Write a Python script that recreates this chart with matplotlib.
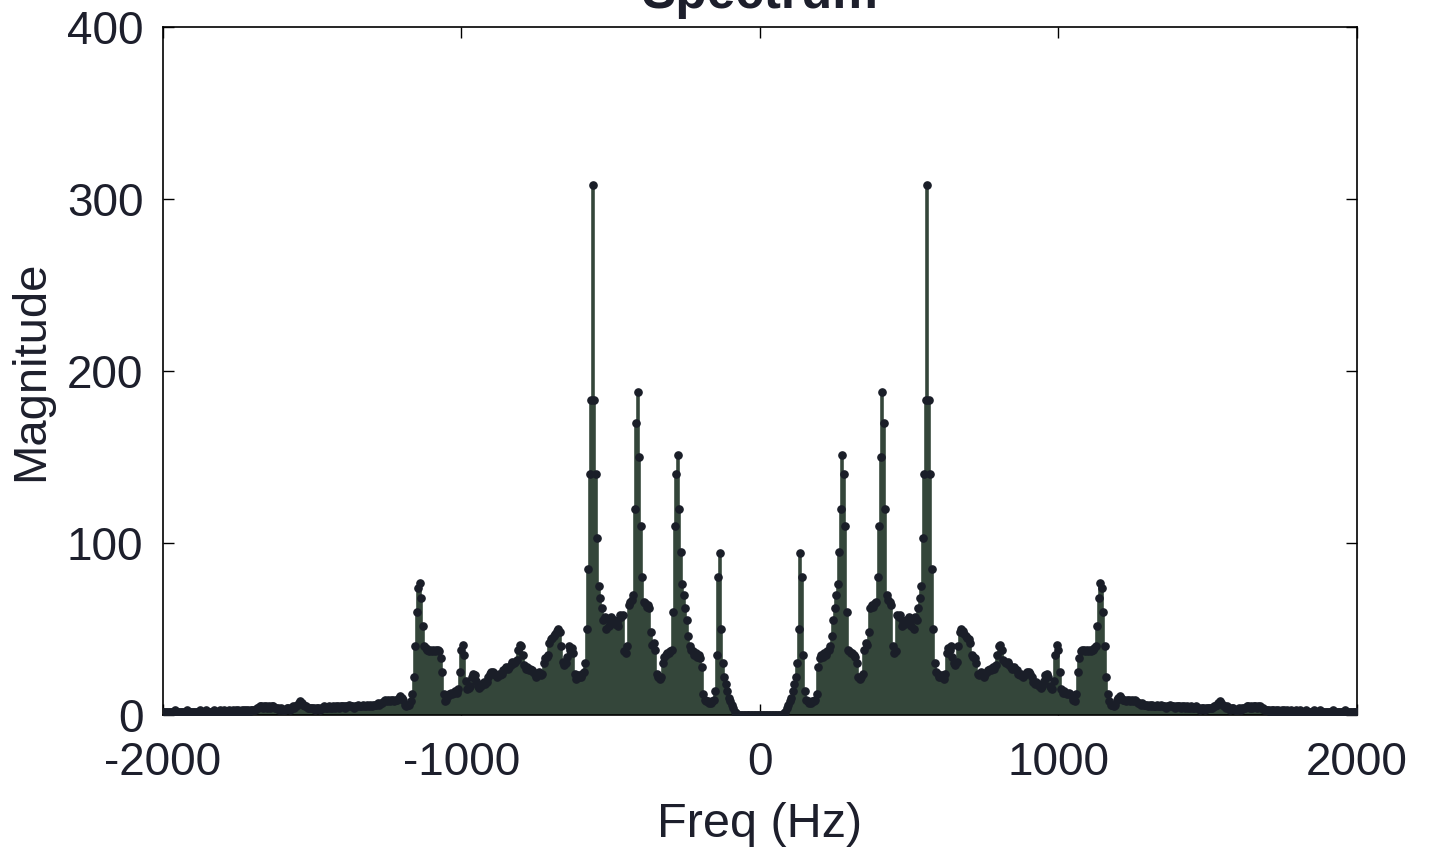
import numpy as np
import matplotlib
matplotlib.use("Agg")
import matplotlib.pyplot as plt

# --- Andmed: positiivne pool, 5 Hz samm 0..2000 Hz (spekter on sümmeetriline) ---
FREQ_STEP = 5
MAG_POS = [
    # 0..95
    0, 0, 0, 0, 0, 0, 0, 0, 0, 0, 0, 0, 0, 0, 0, 0, 1, 2, 4, 6,
    # 100..195
    8, 10, 14, 18, 22, 30, 50, 94, 80, 35, 14, 9, 8, 7, 7, 8, 8, 9, 12, 28,
    # 200..295
    33, 35, 34, 36, 35, 37, 38, 40, 46, 55, 62, 70, 76, 95, 120, 151, 140, 110, 60, 38,
    # 300..395
    37, 36, 36, 35, 34, 30, 22, 21, 22, 24, 38, 42, 41, 48, 62, 64, 63, 65, 66, 80,
    # 400..495
    110, 150, 188, 170, 120, 70, 67, 66, 64, 40, 36, 37, 58, 57, 58, 52, 54, 53, 55, 54,
    # 500..595
    57, 52, 56, 50, 57, 55, 62, 68, 75, 103, 140, 183, 308, 183, 140, 85, 50, 30, 25, 24,
    # 600..695
    22, 22, 23, 21, 24, 36, 39, 38, 40, 34, 30, 29, 31, 40, 48, 50, 49, 47, 46, 45,
    # 700..795
    44, 42, 35, 34, 33, 30, 24, 23, 25, 24, 22, 24, 25, 26, 27, 26, 28, 27, 29, 35,
    # 800..895
    40, 41, 38, 32, 31, 30, 31, 29, 28, 27, 28, 27, 26, 24, 23, 24, 22, 23, 24, 25,
    # 900..995
    25, 24, 22, 19, 18, 19, 18, 17, 16, 17, 20, 23, 24, 22, 17, 16, 15, 20, 35, 41,
    # 1000..1095
    38, 25, 15, 13, 14, 13, 12, 13, 12, 11, 9, 8, 12, 25, 33, 37, 38, 38, 37, 38,
    # 1100..1195
    37, 38, 37, 38, 39, 40, 52, 68, 77, 74, 60, 40, 22, 12, 8, 6, 6, 5, 6, 9,
    # 1200..1295
    10, 11, 10, 9, 9, 8, 9, 9, 8, 9, 8, 9, 8, 7, 7, 6, 7, 6, 6, 6,
    # 1300..1395
    5, 6, 5, 6, 5, 5, 6, 5, 5, 6, 5, 5, 4, 5, 5, 6, 5, 5, 4, 5,
    # 1400..1495
    5, 5, 4, 5, 5, 4, 5, 4, 4, 5, 4, 4, 5, 4, 4, 3, 4, 4, 3, 4,
    # 1500..1595
    4, 4, 4, 4, 5, 5, 6, 7, 8, 7, 6, 5, 4, 5, 4, 3, 4, 4, 3, 3,
    # 1600..1695
    3, 4, 3, 4, 4, 4, 5, 5, 4, 5, 4, 5, 5, 4, 5, 5, 4, 4, 3, 3,
    # 1700..1795
    3, 3, 2, 3, 3, 2, 3, 3, 2, 2, 3, 3, 2, 3, 2, 2, 3, 2, 2, 3,
    # 1800..1895
    2, 2, 3, 2, 2, 2, 3, 2, 2, 2, 2, 3, 2, 2, 2, 3, 2, 2, 2, 2,
    # 1900..1995
    2, 2, 2, 2, 3, 2, 2, 2, 2, 2, 2, 2, 3, 2, 2, 2, 2, 2, 2, 2,
    # 2000
    2,
]

X_TICKS = [-2000, -1000, 0, 1000, 2000]
Y_TICKS = [0, 100, 200, 300, 400]
TITLE = "Spectrum"
XLABEL = "Freq (Hz)"
YLABEL = "Magnitude"

TXT = "#1d1f2c"
STEM = "#34463a"
DOT = "#1a1e28"

plt.rcParams["font.family"] = ["Liberation Sans", "DejaVu Sans"]
plt.rcParams["axes.unicode_minus"] = False

f_pos = np.arange(len(MAG_POS)) * FREQ_STEP
m_pos = np.array(MAG_POS, dtype=float)
freq = np.concatenate([-f_pos[:0:-1], f_pos])
mag = np.concatenate([m_pos[:0:-1], m_pos])

fig = plt.figure(figsize=(14.29, 8.59), dpi=100)
ax = fig.add_axes([0.114, 0.1676, 0.8356, 0.801])

ax.vlines(freq, 0, mag, color=STEM, linewidth=2.6, zorder=2)
ax.plot(freq, mag, "o", color=DOT, markersize=5.2, zorder=3)

ax.set_xlim(-2000, 2000)
ax.set_ylim(0, 400)
ax.set_xticks(X_TICKS)
ax.set_yticks(Y_TICKS)
ax.tick_params(direction="in", length=8, width=1, top=True, right=True,
               labelsize=33, colors="black", labelcolor=TXT)
ax.tick_params(axis="x", pad=19)
ax.tick_params(axis="y", pad=14)
for s in ax.spines.values():
    s.set_linewidth(1.2)
    s.set_color("black")

ax.set_xlabel(XLABEL, fontsize=35, color=TXT, labelpad=12)
ax.set_ylabel(YLABEL, fontsize=34, color=TXT, labelpad=10)
fig.text(0.5318, 1 - 8 / 859, TITLE, ha="center", va="baseline",
         fontsize=37, fontweight="bold", color=TXT)

fig.savefig("out.png", dpi=100)
